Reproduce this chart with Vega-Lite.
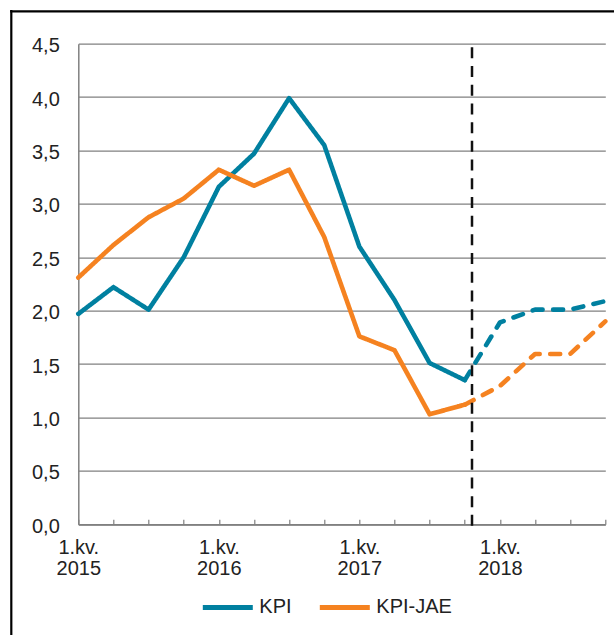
{
  "$schema": "https://vega.github.io/schema/vega-lite/v6.json",
  "width": 527,
  "height": 480.6,
  "autosize": {"type": "none"},
  "padding": {"left": 78.3, "top": 43.7, "right": 8.7, "bottom": 110.7},
  "background": "white",
  "config": {"view": {"stroke": null}, "font": "Liberation Sans"},
  "data": {"values": [
    {"q": 0, "series": "KPI", "part": "actual", "value": 1.97},
    {"q": 1, "series": "KPI", "part": "actual", "value": 2.22},
    {"q": 2, "series": "KPI", "part": "actual", "value": 2.01},
    {"q": 3, "series": "KPI", "part": "actual", "value": 2.5},
    {"q": 4, "series": "KPI", "part": "actual", "value": 3.16},
    {"q": 5, "series": "KPI", "part": "actual", "value": 3.47},
    {"q": 6, "series": "KPI", "part": "actual", "value": 3.99},
    {"q": 7, "series": "KPI", "part": "actual", "value": 3.55},
    {"q": 8, "series": "KPI", "part": "actual", "value": 2.6},
    {"q": 9, "series": "KPI", "part": "actual", "value": 2.1},
    {"q": 10, "series": "KPI", "part": "actual", "value": 1.51},
    {"q": 11, "series": "KPI", "part": "actual", "value": 1.35},
    {"q": 11, "series": "KPI", "part": "forecast", "value": 1.35},
    {"q": 12, "series": "KPI", "part": "forecast", "value": 1.89},
    {"q": 13, "series": "KPI", "part": "forecast", "value": 2.01},
    {"q": 14, "series": "KPI", "part": "forecast", "value": 2.01},
    {"q": 15, "series": "KPI", "part": "forecast", "value": 2.09},
    {"q": 0, "series": "KPI-JAE", "part": "actual", "value": 2.31},
    {"q": 1, "series": "KPI-JAE", "part": "actual", "value": 2.615},
    {"q": 2, "series": "KPI-JAE", "part": "actual", "value": 2.875},
    {"q": 3, "series": "KPI-JAE", "part": "actual", "value": 3.05},
    {"q": 4, "series": "KPI-JAE", "part": "actual", "value": 3.32},
    {"q": 5, "series": "KPI-JAE", "part": "actual", "value": 3.17},
    {"q": 6, "series": "KPI-JAE", "part": "actual", "value": 3.32},
    {"q": 7, "series": "KPI-JAE", "part": "actual", "value": 2.69},
    {"q": 8, "series": "KPI-JAE", "part": "actual", "value": 1.76},
    {"q": 9, "series": "KPI-JAE", "part": "actual", "value": 1.63},
    {"q": 10, "series": "KPI-JAE", "part": "actual", "value": 1.03},
    {"q": 11, "series": "KPI-JAE", "part": "actual", "value": 1.12},
    {"q": 11, "series": "KPI-JAE", "part": "forecast", "value": 1.12},
    {"q": 12, "series": "KPI-JAE", "part": "forecast", "value": 1.295},
    {"q": 13, "series": "KPI-JAE", "part": "forecast", "value": 1.595},
    {"q": 14, "series": "KPI-JAE", "part": "forecast", "value": 1.595},
    {"q": 15, "series": "KPI-JAE", "part": "forecast", "value": 1.9}
  ]},
  "layer": [
    {
      "mark": {"type": "line", "strokeWidth": 4.6, "strokeCap": "round", "strokeJoin": "round"},
      "encoding": {
        "x": {
          "field": "q",
          "type": "quantitative",
          "scale": {"domain": [0, 15], "nice": false, "zero": false},
          "axis": {
            "title": null,
            "values": [0, 1, 2, 3, 4, 5, 6, 7, 8, 9, 10, 11, 12, 13, 14, 15],
            "tickCount": 20,
            "labelExpr": "datum.value % 4 == 0 ? ['1.kv.', '' + (2015 + datum.value / 4)] : ''",
            "grid": false,
            "domainColor": "#808080",
            "domainWidth": 1.5,
            "ticks": true,
            "tickColor": "#808080",
            "tickWidth": 1.2,
            "tickSize": -5,
            "labelFontSize": 20,
            "labelColor": "#222222",
            "labelLineHeight": 21,
            "labelPadding": 18,
            "labelFlush": false,
            "labelOverlap": false
          }
        },
        "y": {
          "field": "value",
          "type": "quantitative",
          "scale": {"domain": [0, 4.5], "nice": false},
          "axis": {
            "title": null,
            "values": [0, 0.5, 1, 1.5, 2, 2.5, 3, 3.5, 4, 4.5],
            "tickCount": 12,
            "labelExpr": "replace(format(datum.value, '.1f'), '.', ',')",
            "grid": true,
            "gridColor": "#808080",
            "gridWidth": 1.2,
            "domainColor": "#808080",
            "domainWidth": 1.5,
            "ticks": false,
            "labelPadding": 19,
            "labelFontSize": 20,
            "labelColor": "#222222",
            "labelOffset": 2
          }
        },
        "color": {
          "field": "series",
          "type": "nominal",
          "scale": {"domain": ["KPI", "KPI-JAE"], "range": ["#0080A0", "#F58220"]},
          "legend": {
            "title": null,
            "orient": "none",
            "direction": "horizontal",
            "legendX": 122,
            "legendY": 536,
            "padding": 0,
            "symbolType": "stroke",
            "symbolSize": 2500,
            "symbolStrokeWidth": 5,
            "symbolDash": [1, 0],
            "labelFontSize": 20,
            "labelColor": "#222222",
            "labelOffset": 4,
            "columnPadding": 17
          }
        },
        "strokeDash": {
          "field": "part",
          "type": "nominal",
          "scale": {"domain": ["actual", "forecast"], "range": [[1, 0], [10, 10.5]]},
          "legend": null
        }
      }
    },
    {
      "data": {"values": [{}]},
      "mark": {"type": "rule", "color": "#000000", "strokeWidth": 2.2},
      "encoding": {
        "x": {"datum": -1.907, "type": "quantitative"},
        "y": {"datum": 4.815, "type": "quantitative"},
        "y2": {"datum": -1.3}
      }
    },
    {
      "data": {"values": [{}]},
      "mark": {"type": "rule", "color": "#000000", "strokeWidth": 2.2},
      "encoding": {
        "x": {"datum": -1.94, "type": "quantitative"},
        "x2": {"datum": 15.5},
        "y": {"datum": 4.803, "type": "quantitative"}
      }
    },
    {
      "data": {"values": [{}]},
      "mark": {"type": "rule", "color": "#111111", "strokeWidth": 2.5, "strokeDash": [11, 7.7]},
      "encoding": {
        "x": {"datum": 11.206, "type": "quantitative"},
        "y": {"datum": 4.466, "type": "quantitative"},
        "y2": {"datum": -0.02}
      }
    }
  ]
}
